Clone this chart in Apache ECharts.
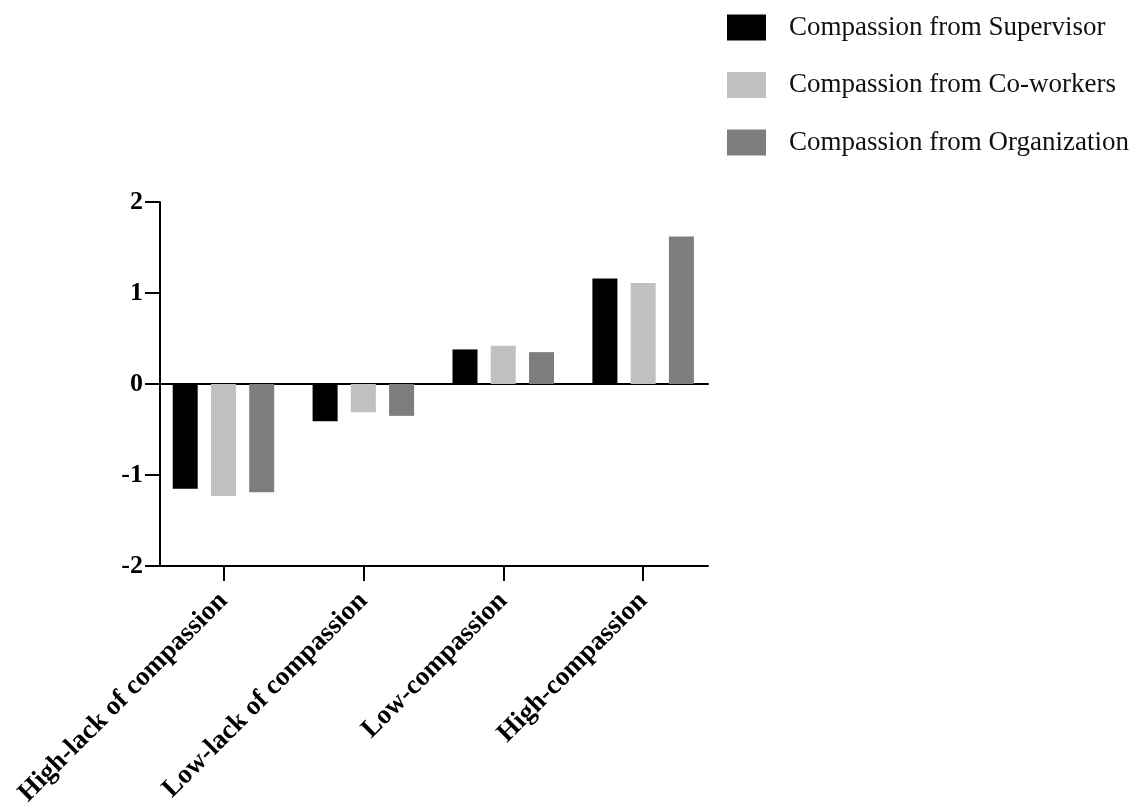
<!DOCTYPE html>
<html>
<head>
<meta charset="utf-8">
<script src="https://cdn.jsdelivr.net/npm/echarts@6/dist/echarts.min.js"></script>
<style>html,body{margin:0;padding:0;background:#fff}#c{width:1142px;height:805px}</style>
</head>
<body>
<div id="c"></div>
<script>
const categories = ['High-lack of compassion', 'Low-lack of compassion', 'Low-compassion', 'High-compassion'];
const seriesNames = ['Compassion from Supervisor', 'Compassion from Co-workers', 'Compassion from Organization'];
const supervisor = [-1.15, -0.41, 0.38, 1.16];
const coworkers = [-1.23, -0.31, 0.42, 1.11];
const organization = [-1.19, -0.35, 0.35, 1.62];
const yTicks = [-2, -1, 0, 1, 2];

const colors = ['#000000', '#c0c0c0', '#7f7d7e'];
const serif = '"Liberation Serif", "Times New Roman", serif';
const chart = echarts.init(document.getElementById('c'));
const values = [supervisor, coworkers, organization];
const yMin = yTicks[0], yMax = yTicks[yTicks.length - 1];
const axisLineStyle = { color: '#000', width: 2 };

chart.setOption({
  animation: false,
  backgroundColor: '#fff',
  legend: {
    orient: 'vertical', left: 727, top: 14, padding: 0,
    itemWidth: 39, itemHeight: 26, itemGap: 30.5,
    icon: 'rect',
    textStyle: { fontFamily: serif, fontSize: 27, lineHeight: 26, color: '#111', padding: [0, 0, 0, 18] },
    data: seriesNames
  },
  grid: [
    { left: 153.5, width: 559.6, top: 202, height: 364, containLabel: false, outerBoundsMode: 'none' },
    { left: 160, width: 548, top: 202, height: 364, containLabel: false, outerBoundsMode: 'none' }
  ],
  xAxis: [
    {
      gridIndex: 0, type: 'category', data: categories,
      axisLine: { show: false, onZero: false },
      axisTick: { show: true, alignWithLabel: true, length: 15, lineStyle: axisLineStyle },
      axisLabel: { rotate: 45, margin: 31, fontFamily: serif, fontWeight: 'bold', fontSize: 27, color: '#000' }
    },
    {
      gridIndex: 1, type: 'value', min: 0, max: 1, position: 'bottom',
      axisLine: { show: true, onZero: false, lineStyle: axisLineStyle },
      axisTick: { show: false }, axisLabel: { show: false }, splitLine: { show: false }
    },
    {
      gridIndex: 1, type: 'value', min: 0, max: 1, position: 'top',
      axisLine: { show: true, onZero: true, lineStyle: axisLineStyle },
      axisTick: { show: false }, axisLabel: { show: false }, splitLine: { show: false }
    }
  ],
  yAxis: [
    { gridIndex: 0, type: 'value', min: yMin, max: yMax, interval: 1, show: false },
    {
      gridIndex: 1, type: 'value', min: yMin, max: yMax, interval: 1,
      splitLine: { show: false },
      axisLine: { show: true, lineStyle: axisLineStyle },
      axisTick: { show: true, length: 15, lineStyle: axisLineStyle },
      axisLabel: { margin: 17, fontFamily: serif, fontWeight: 'bold', fontSize: 26, color: '#000' }
    }
  ],
  series: seriesNames.map((n, i) => ({
    name: n, type: 'bar', data: values[i],
    xAxisIndex: 0, yAxisIndex: 0,
    barWidth: 25, barGap: '53%',
    itemStyle: { color: colors[i] }
  }))
});
</script>
</body>
</html>
